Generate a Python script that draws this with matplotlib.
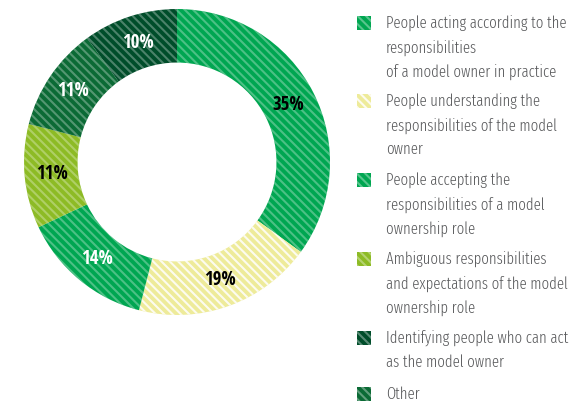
import matplotlib
matplotlib.use("Agg")
import matplotlib.pyplot as plt
from matplotlib.patches import Rectangle
from matplotlib import font_manager
from matplotlib.font_manager import FontProperties

# legend order
categories = [
    "People acting according to the\nresponsibilities\nof a model owner in practice",
    "People understanding the\nresponsibilities of the model\nowner",
    "People accepting the\nresponsibilities of a model\nownership role",
    "Ambiguous responsibilities\nand expectations of the model\nownership role",
    "Identifying people who can act\nas the model owner",
    "Other",
]
values = [35, 19, 14, 11, 10, 11]
colors = ["#00a651", "#eeeb9a", "#00a651", "#8dbb25", "#004d2a", "#0b6a35"]
label_colors = ["black", "black", "white", "black", "white", "white"]
# clockwise order of slices from 12 o'clock
pie_order = [0, 1, 2, 3, 5, 4]


def pick_font(weight, fams):
    # installed file of a condensed family close to the wanted weight
    for fam in fams:
        fs = [f for f in font_manager.fontManager.ttflist
              if f.name == fam and f.style == "normal"
              and abs(int(f.weight) - weight) <= 100]
        if fs:
            f = min(fs, key=lambda f: abs(int(f.weight) - weight))
            return FontProperties(fname=f.fname)
    return FontProperties(family="DejaVu Sans", weight=weight)


light = pick_font(300, ["Open Sans Condensed", "Fira Sans Extra Condensed",
                        "Encode Sans Condensed", "Asap Condensed"])
bold = pick_font(700, ["Open Sans Condensed", "Fira Sans Extra Condensed", "Asap Condensed"])
plt.rcParams["hatch.linewidth"] = 1.5
hatch = "\\\\\\\\"

W, H = 574, 407
fig = plt.figure(figsize=(W / 100, H / 100), dpi=100)

cx, cy, R = 177, 162, 153
ax = fig.add_axes([(cx - R) / W, (H - cy - R) / H, 2 * R / W, 2 * R / H])

vals = [values[i] for i in pie_order]
cols = [colors[i] for i in pie_order]
wedges, texts, autotexts = ax.pie(
    vals, colors=cols, startangle=90, counterclock=False,
    autopct="%d%%", pctdistance=0.82,
    wedgeprops=dict(width=0.35, linewidth=0, edgecolor=(1, 1, 1, 0.3), hatch=hatch),
)
for k, i in enumerate(pie_order):
    autotexts[k].set_color(label_colors[i])
    autotexts[k].set_fontproperties(bold)
    autotexts[k].set_fontsize(13.5)
    if colors[i] == "#eeeb9a":
        wedges[k].set_edgecolor((1, 1, 1, 0.85))
ax.set_xlim(-1, 1)
ax.set_ylim(-1, 1)
ax.axis("off")

# legend drawn by hand so the squares line up with the first line of text
item_y = [23, 101, 180, 259, 338, 394]
for i, lab in enumerate(categories):
    y = item_y[i]
    sq = Rectangle((357 / W, (H - y - 7) / H), 14 / W, 14 / H,
                   transform=fig.transFigure, facecolor=colors[i],
                   edgecolor=(1, 1, 1, 0.85 if i == 1 else 0.35),
                   linewidth=0, hatch=hatch)
    fig.add_artist(sq)
    fig.text(386 / W, (H - y + 8) / H, lab, ha="left", va="top",
             fontproperties=light, fontsize=11.5, color="#58595b", linespacing=1.62)

fig.savefig("out.png", dpi=100)
